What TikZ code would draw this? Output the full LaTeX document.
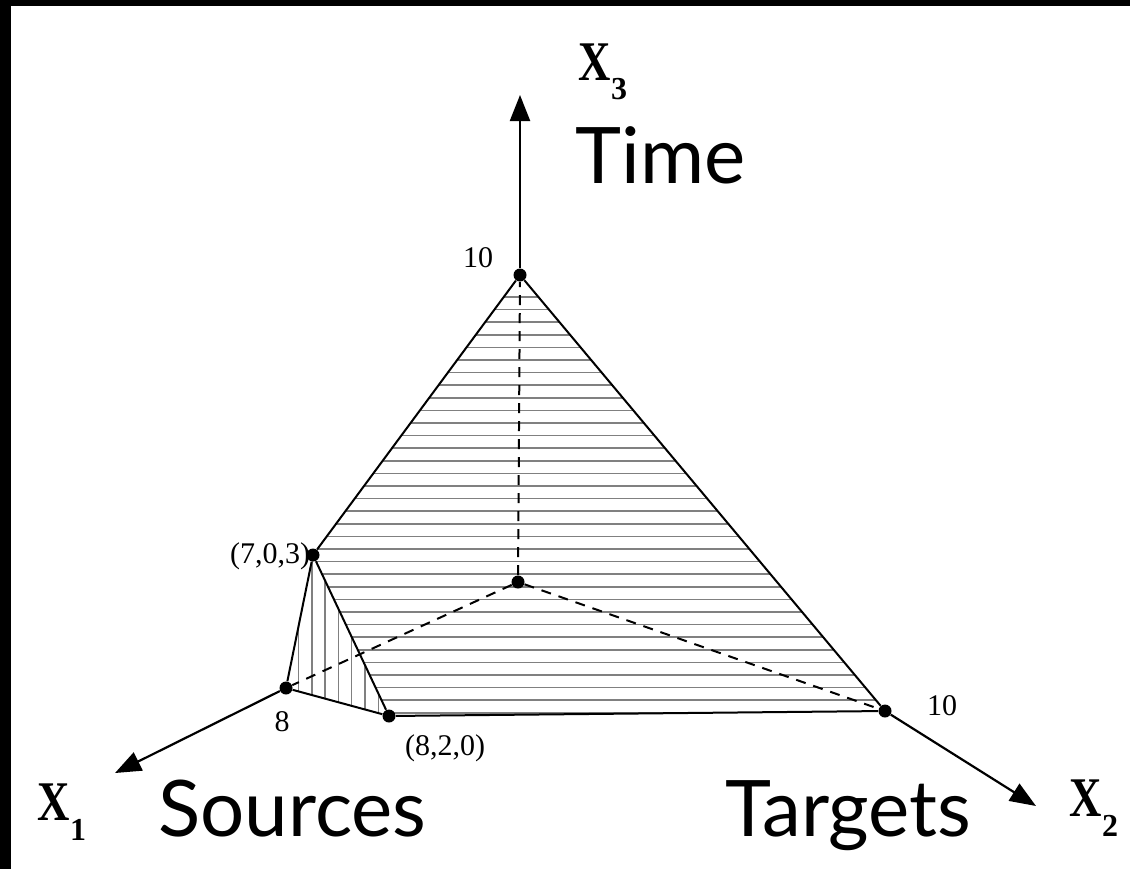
\documentclass[tikz,border=0pt]{standalone}
\usepackage{fontspec}
\setmainfont{Liberation Serif}
\newfontfamily\bigsans{Lato}
\usetikzlibrary{arrows.meta}
\begin{document}
\begin{tikzpicture}[x=0.5pt,y=-0.5pt,
  edge/.style={line width=1pt, black},
  hidden/.style={line width=1pt, dash pattern=on 5pt off 4pt},
  axis/.style={line width=1.1pt, -{Triangle[length=13pt,width=10pt]}},
  dot/.style={circle, fill=black, inner sep=0pt, minimum size=6.5pt},
  small/.style={font=\fontsize{15}{17}\selectfont, inner sep=0pt},
  big/.style={font=\bigsans\fontsize{39}{41}\selectfont, inner sep=0pt, anchor=base west},
  axlab/.style={font=\fontsize{28}{30}\selectfont\bfseries, inner sep=0pt},
  hatch/.style={black!50, line width=0.75pt}]
\useasboundingbox (0,0) rectangle (1130,869);
\fill[white] (0,0) rectangle (1130,869);
\fill[black] (0,0) rectangle (11,869);
\fill[black] (0,0) rectangle (1130,6);
% vertices
\coordinate (pT) at (520,275);
\coordinate (pO) at (518,582);
\coordinate (pA) at (313,555);
\coordinate (pB) at (286,688);
\coordinate (pC) at (389,716);
\coordinate (pD) at (885,711);
\coordinate (x3end) at (520,95);
\coordinate (x1end) at (115,773);
\coordinate (x2end) at (1036,806);
% hatching
\begin{scope}
  \clip (pT) -- (pA) -- (pC) -- (pD) -- cycle;
  \foreach \k in {0,...,33} \draw[hatch] (250,297+12.6*\k) -- (900,297+12.6*\k);
\end{scope}
\begin{scope}
  \clip (pA) -- (pB) -- (pC) -- cycle;
  \foreach \k in {0,...,7} \draw[hatch] (298.5+13.3*\k,540) -- (298.5+13.3*\k,720);
\end{scope}
% points
\node[dot] (T) at (pT) {};
\node[dot] (O) at (pO) {};
\node[dot] (A) at (pA) {};
\node[dot] (B) at (pB) {};
\node[dot] (C) at (pC) {};
\node[dot] (D) at (pD) {};
% hidden edges
\draw[hidden] (O) -- (T);
\draw[hidden] (O) -- (D);
\draw[hidden] (O) -- (B);
% visible edges
\draw[edge] (T) -- (A);
\draw[edge] (T) -- (D);
\draw[edge] (A) -- (C);
\draw[edge] (A) -- (B);
\draw[edge] (B) -- (C);
\draw[edge] (C) -- (D);
% axes
\draw[axis] (T) -- (x3end);
\draw[axis] (B) -- (x1end);
\draw[axis] (D) -- (x2end);
% labels
\node[small] (l10a) at (478,258) {10};
\node[small] (l703) at (270,556) {(7,0,3)};
\node[small] (l8) at (282,722) {8};
\node[small] (l820) at (445,748) {(8,2,0)};
\node[small] (l10b) at (942,706) {10};
\node[axlab] (x3lab) at (603,72) {\scalebox{0.8}[1]{X}\raisebox{-0.35em}{\fontsize{16}{17}\selectfont 3}};
\node[axlab] (x1lab) at (62,812) {\scalebox{0.8}[1]{X}\raisebox{-0.35em}{\fontsize{16}{17}\selectfont 1}};
\node[axlab] (x2lab) at (1094,808) {\scalebox{0.8}[1]{X}\raisebox{-0.35em}{\fontsize{16}{17}\selectfont 2}};
\node[big] (time) at (575,183) {Time};
\node[big] (src) at (158,836) {Sources};
\node[big] (tgt) at (725,836) {Targets};
\end{tikzpicture}
\end{document}
